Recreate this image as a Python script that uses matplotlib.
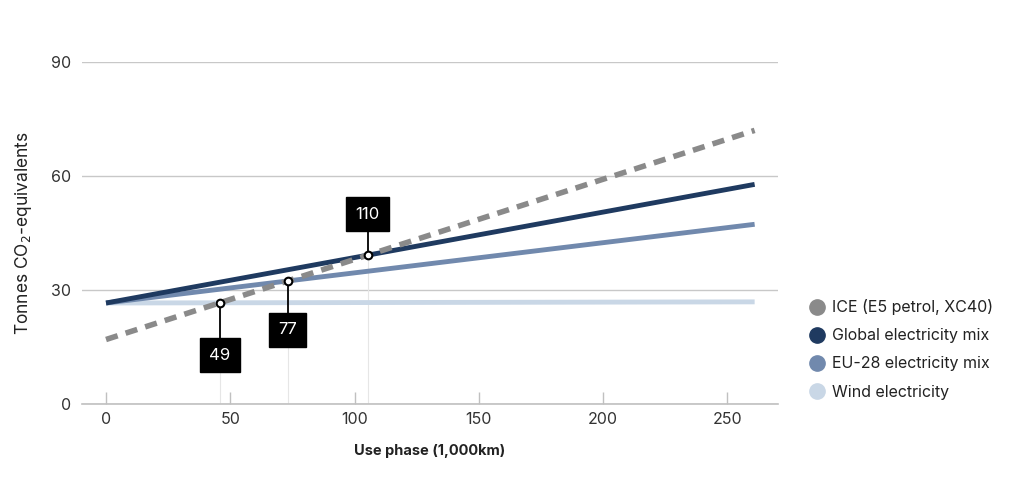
import numpy as np
import matplotlib.pyplot as plt
from matplotlib.lines import Line2D

plt.rcParams['font.family'] = ['Inter', 'DejaVu Sans']

# data
km = [0, 261]
ice = [17.0, 72.0]
global_mix = [26.6, 57.8]
eu_mix = [26.6, 47.3]
wind = [26.6, 26.9]

names = ['ICE (E5 petrol, XC40)', 'Global electricity mix', 'EU-28 electricity mix', 'Wind electricity']
colors = ['#8a8a8a', '#1f3a60', '#7189ad', '#c9d7e6']

breakeven_labels = ['49', '77', '110']
box_y = [12.9, 19.5, 50.0]

fig = plt.figure(figsize=(10.24, 4.84), dpi=100)
ax = fig.add_axes([0.080, 0.165, 0.680, 0.707])

ax.set_xlim(-9.7, 270.5)
ax.set_ylim(0, 90)

ax.plot(km, wind, color=colors[3], lw=3.5, solid_capstyle='butt', zorder=3)
ax.plot(km, eu_mix, color=colors[2], lw=3.5, solid_capstyle='butt', zorder=3)
ax.plot(km, global_mix, color=colors[1], lw=3.5, solid_capstyle='butt', zorder=4)
ax.plot(km, ice, color=colors[0], lw=4, ls=(0, (2.2, 1.5)), zorder=5)

# crossing points of ICE with each EV line
def slope(s):
    return (s[1] - s[0]) / (km[1] - km[0])

cross = []
for s in [wind, eu_mix, global_mix]:
    x = (s[0] - ice[0]) / (slope(ice) - slope(s))
    cross.append((x, ice[0] + slope(ice) * x))

for (x, y), lab, by in zip(cross, breakeven_labels, box_y):
    ax.plot([x, x], [0, y], color='#e6e6e6', lw=0.8, zorder=1)
    ax.plot([x, x], [y, by], color='black', lw=1.3, zorder=6)
    ax.plot(x, y, 'o', ms=5.5, mfc='white', mec='black', mew=1.5, zorder=7)
    ax.text(x, by, lab, ha='center', va='center', color='white', fontsize=12,
            bbox=dict(boxstyle='square,pad=0.55', fc='black', ec='black'), zorder=8)

ax.set_yticks([0, 30, 60, 90])
ax.set_xticks([0, 50, 100, 150, 200, 250])
ax.grid(axis='y', color='#c8c8c8', lw=1)
ax.set_axisbelow(True)
for sp in ['top', 'right', 'left']:
    ax.spines[sp].set_visible(False)
ax.spines['bottom'].set_color('#c0c0c0')
ax.spines['bottom'].set_linewidth(1.2)
ax.tick_params(axis='y', length=0, pad=8, labelsize=11.5, labelcolor='#333333')
ax.tick_params(axis='x', direction='in', length=9, color='#c0c0c0', width=1,
               pad=6, labelsize=11.5, labelcolor='#333333')

ax.set_ylabel('Tonnes CO$_2$-equivalents', fontsize=12.5, color='#222222', labelpad=12)
ax.set_xlabel('Use phase (1,000km)', fontsize=10.5, fontweight='bold', color='#222222', labelpad=12)

handles = [Line2D([], [], ls='', marker='o', ms=11, mfc=c, mec=c) for c in colors]
fig.legend(handles, names, loc='center left', bbox_to_anchor=(0.776, 0.278),
           frameon=False, fontsize=11.5, handletextpad=0.45, labelspacing=0.82,
           handlelength=1.0, labelcolor='#222222')

fig.savefig('out.png', dpi=100)
